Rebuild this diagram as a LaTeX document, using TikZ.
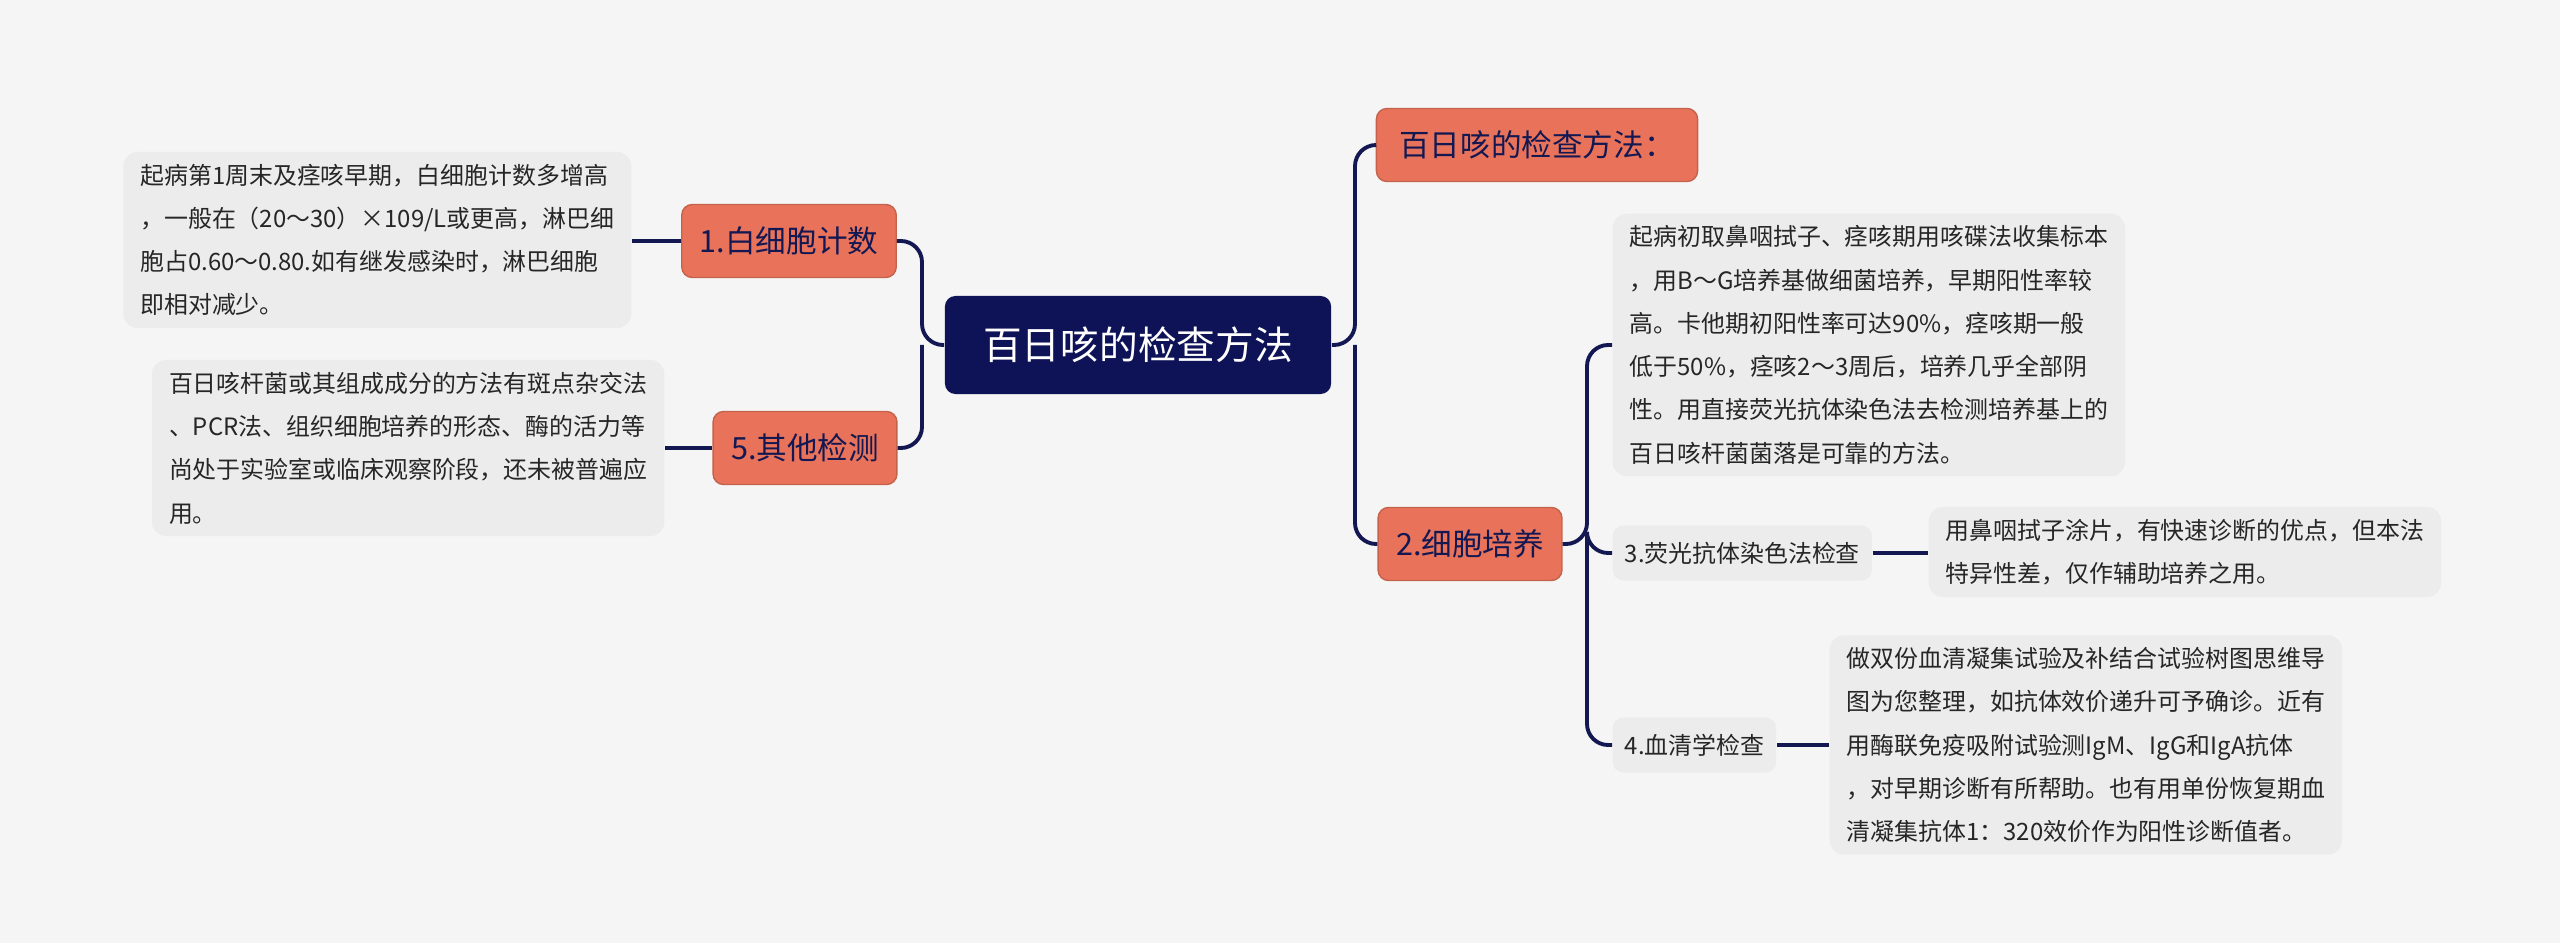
\documentclass[tikz,border=0pt]{standalone}
\usepackage{fontspec}
\setmainfont{Noto Sans CJK SC}
\definecolor{bgcol}{HTML}{F5F5F5}
\definecolor{rootcol}{HTML}{0E1257}
\definecolor{topiccol}{HTML}{E8735A}
\definecolor{notecol}{HTML}{ECECEC}
\definecolor{linkcol}{HTML}{141852}
\begin{document}
\begin{tikzpicture}[x=0.01cm,y=-0.01cm,
  rootbox/.style={fill=rootcol,text=white,rounded corners=3pt,minimum width=3.86cm,minimum height=0.98cm,font=\fontsize{11}{13}\selectfont},
  topic/.style={fill=topiccol,draw=topiccol!85!black,line width=0.4pt,text=linkcol,rounded corners=3pt,minimum height=0.73cm,inner xsep=0.18cm,font=\fontsize{8.7}{10}\selectfont},
  sub/.style={fill=notecol,text=black!85,rounded corners=3pt,minimum height=0.55cm,inner xsep=0.12cm,font=\fontsize{6.8}{8}\selectfont},
  note/.style={fill=notecol,text=black!85,rounded corners=4pt,align=left,inner xsep=0.17cm,inner ysep=0.12cm,font=\fontsize{6.8}{12.3}\selectfont},
  link/.style={draw=linkcol,line width=1.1pt,rounded corners=6pt}]
\fill[bgcol] (0,0) rectangle (2560,943);

\node[rootbox] (root) at (1138,345) {百日咳的检查方法};
\node[topic] (wbc) at (789,241) {1.白细胞计数};
\node[topic] (other) at (805,448) {5.其他检测};
\node[topic,text=linkcol,minimum width=3.21cm] (method) at (1537,145) {百日咳的检查方法：};
\node[topic] (culture) at (1470,544) {2.细胞培养};

\node[note,anchor=east] (wbcnote) at (632,240) {起病第1周末及痉咳早期，白细胞计数多增高\\，一般在（20～30）×109/L或更高，淋巴细\\胞占0.60～0.80.如有继发感染时，淋巴细胞\\即相对减少。};
\node[note,anchor=east] (othernote) at (665,448) {百日咳杆菌或其组成成分的方法有斑点杂交法\\、PCR法、组织细胞培养的形态、酶的活力等\\尚处于实验室或临床观察阶段，还未被普遍应\\用。};

\node[note,anchor=west] (culturenote) at (1612,345) {起病初取鼻咽拭子、痉咳期用咳碟法收集标本\\，用B～G培养基做细菌培养，早期阳性率较\\高。卡他期初阳性率可达90\%，痉咳期一般\\低于50\%，痉咳2～3周后，培养几乎全部阴\\性。用直接荧光抗体染色法去检测培养基上的\\百日咳杆菌菌落是可靠的方法。};
\node[sub,anchor=west] (fluor) at (1612,553) {3.荧光抗体染色法检查};
\node[note,anchor=west] (fluornote) at (1928,552) {用鼻咽拭子涂片，有快速诊断的优点，但本法\\特异性差，仅作辅助培养之用。};
\node[sub,anchor=west] (serum) at (1612,745) {4.血清学检查};
\node[note,anchor=west] (serumnote) at (1829,745) {做双份血清凝集试验及补结合试验树图思维导\\图为您整理，如抗体效价递升可予确诊。近有\\用酶联免疫吸附试验测IgM、IgG和IgA抗体\\，对早期诊断有所帮助。也有用单份恢复期血\\清凝集抗体1：320效价作为阳性诊断值者。};

% connectors
\coordinate (rspine) at (1355,345);
\coordinate (lspine) at (922,345);
\coordinate (cspine) at (1587,544);
\draw[link] (root.east) -- (rspine) |- (method.west);
\draw[link] (rspine) |- (culture.west);
\draw[link] (root.west) -- (lspine) |- (wbc.east);
\draw[link] (lspine) |- (other.east);
\draw[link] (culture.east) -- (cspine) |- (culturenote.west);
\draw[link] (cspine) |- (fluor.west);
\draw[link] (cspine) |- (serum.west);
\draw[link] (wbc.west) -- (wbcnote.east |- wbc.west);
\draw[link] (other.west) -- (othernote.east |- other.west);
\draw[link] (fluor.east) -- (fluornote.west |- fluor.east);
\draw[link] (serum.east) -- (serumnote.west |- serum.east);
\end{tikzpicture}
\end{document}
